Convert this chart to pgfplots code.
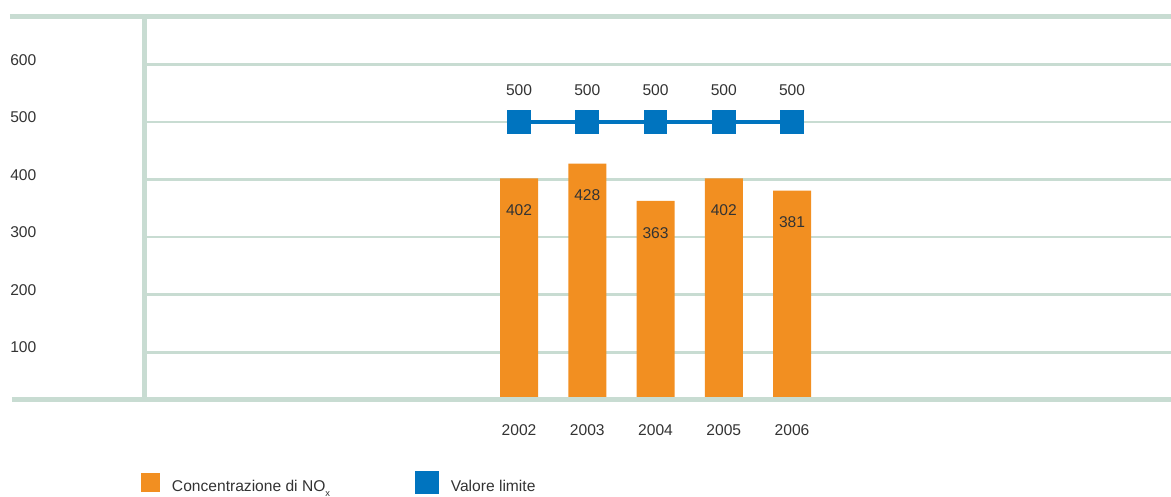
\documentclass[border=0pt]{standalone}
\usepackage{pgfplots}
\pgfplotsset{compat=1.18}
\usepackage{fontspec}
\setmainfont{Liberation Sans}
\definecolor{orangeC}{HTML}{F28F21}
\definecolor{blueC}{HTML}{0074BF}
\definecolor{gridC}{HTML}{C8DCD2}
\definecolor{textC}{HTML}{333333}
\begin{document}
\begin{tikzpicture}[font=\fontsize{11.7pt}{14pt}\selectfont, text=textC]
\begin{axis}[
  scale only axis,
  width=770.25pt, height=287.1pt,
  xmin=-5.495, xmax=9.553,
  ymin=18.2, ymax=683.4,
  xtick={0,1,2,3,4},
  xticklabels={2002,2003,2004,2005,2006},
  ytick={100,200,300,400,500,600},
  /pgf/number format/assume math mode=true,
  axis line style={draw=none},
  tick style={draw=none},
  major tick length=0pt,
  ymajorgrids,
  grid style={gridC, line width=1.9pt},
  yticklabel style={anchor=west, inner sep=0pt, xshift=-100.5pt, yshift=3.6pt, text=textC},
  xticklabel style={anchor=center, inner sep=0pt, yshift=-23.4pt, text=textC},
  legend columns=2,
  legend style={at={(0,0)}, anchor=north west, xshift=-2.25pt, yshift=-53.5pt,
    draw=none, fill=none, inner sep=0pt, outer sep=0pt,
    nodes={inner sep=0pt, text depth=0pt, text=textC},
    cells={anchor=base west},
    /tikz/every odd column/.append style={column sep=9pt},
    /tikz/every even column/.append style={column sep=0pt}},
]
\addplot[ybar, bar width=28.5pt, fill=orangeC, draw=none,
  nodes near coords,
  nodes near coords style={anchor=center, yshift=-24pt, text=textC, font=\fontsize{11.7pt}{14pt}\selectfont},
  legend image code/.code={\fill[orangeC] (0pt,-0.5pt) rectangle (14.25pt,13.75pt);}]
  coordinates {(0,402) (1,428) (2,363) (3,402) (4,381)};
\addlegendentry{\makebox[182.25pt][l]{Concentrazione di NO\raisebox{-3.6pt}{\fontsize{7pt}{8pt}\selectfont x}}}
\addplot[blueC, line width=3.6pt, mark=square*, mark size=7.125pt,
  mark options={fill=blueC, draw=none},
  nodes near coords,
  nodes near coords style={anchor=center, yshift=24pt, text=textC, font=\fontsize{11.7pt}{14pt}\selectfont},
  legend image code/.code={\fill[blueC] (0pt,-0.5pt) rectangle (14.25pt,13.75pt);}]
  coordinates {(0,500) (1,500) (2,500) (3,500) (4,500)};
\addlegendentry{Valore limite}
\end{axis}
\draw[gridC, line width=3.75pt] ([xshift=-100.5pt]current axis.north west) -- (current axis.north east);
\draw[gridC, line width=3.75pt] ([xshift=-99pt]current axis.south west) -- (current axis.south east);
\draw[gridC, line width=3.75pt] ([yshift=1.875pt]current axis.north west) -- ([yshift=-1.875pt]current axis.south west);
\pgfresetboundingbox
\path ([xshift=-108pt,yshift=-72.5pt]current axis.south west) rectangle ([yshift=12.4pt]current axis.north east);
\end{tikzpicture}
\end{document}
